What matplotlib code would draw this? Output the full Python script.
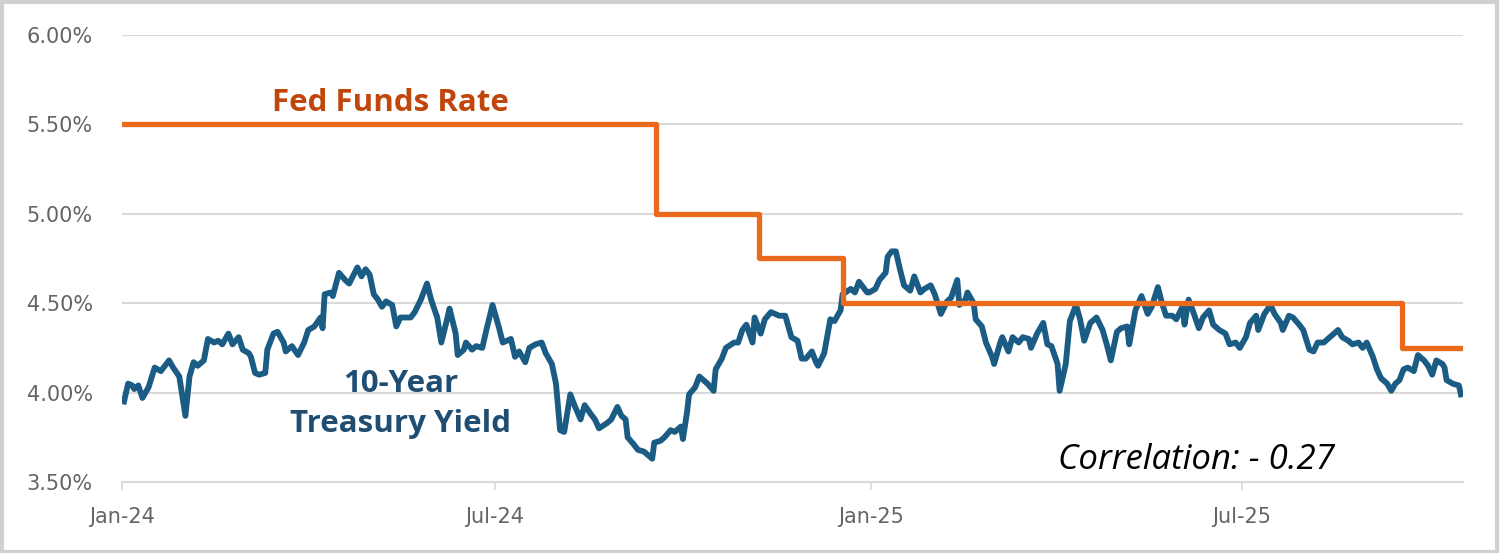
"""10-Year Treasury yield vs. Fed Funds rate, Jan-24 to Oct-25."""
import numpy as np
import pandas as pd
import matplotlib
matplotlib.use("Agg")
import matplotlib.pyplot as plt
import matplotlib.dates as mdates
from matplotlib.patches import Rectangle

# 10-year treasury yield (%)
ust_dates = [
    "2024-01-02", "2024-01-04", "2024-01-06", "2024-01-07", "2024-01-09", "2024-01-11",
    "2024-01-14", "2024-01-17", "2024-01-20", "2024-01-24", "2024-01-26", "2024-01-29",
    "2024-02-01", "2024-02-03", "2024-02-05", "2024-02-07", "2024-02-10", "2024-02-12",
    "2024-02-15", "2024-02-17", "2024-02-19", "2024-02-22", "2024-02-24", "2024-02-27",
    "2024-02-29", "2024-03-03", "2024-03-04", "2024-03-06", "2024-03-08", "2024-03-11",
    "2024-03-12", "2024-03-15", "2024-03-17", "2024-03-20", "2024-03-21", "2024-03-24",
    "2024-03-27", "2024-03-30", "2024-04-01", "2024-04-04", "2024-04-07", "2024-04-08",
    "2024-04-09", "2024-04-12", "2024-04-13", "2024-04-16", "2024-04-19", "2024-04-21",
    "2024-04-25", "2024-04-27", "2024-04-29", "2024-05-01", "2024-05-03", "2024-05-05",
    "2024-05-07", "2024-05-09", "2024-05-12", "2024-05-14", "2024-05-16", "2024-05-18",
    "2024-05-21", "2024-05-23", "2024-05-26", "2024-05-29", "2024-05-31", "2024-06-03",
    "2024-06-05", "2024-06-08", "2024-06-09", "2024-06-12", "2024-06-13", "2024-06-16",
    "2024-06-17", "2024-06-20", "2024-06-22", "2024-06-25", "2024-06-27", "2024-06-30",
    "2024-07-03", "2024-07-05", "2024-07-09", "2024-07-11", "2024-07-13", "2024-07-16",
    "2024-07-18", "2024-07-21", "2024-07-24", "2024-07-26", "2024-07-29", "2024-07-31",
    "2024-08-02", "2024-08-04", "2024-08-07", "2024-08-09", "2024-08-12", "2024-08-14",
    "2024-08-17", "2024-08-19", "2024-08-21", "2024-08-25", "2024-08-27", "2024-08-30",
    "2024-09-01", "2024-09-03", "2024-09-04", "2024-09-07", "2024-09-09", "2024-09-12",
    "2024-09-14", "2024-09-16", "2024-09-17", "2024-09-20", "2024-09-22", "2024-09-25",
    "2024-09-27", "2024-09-30", "2024-10-01", "2024-10-03", "2024-10-04", "2024-10-07",
    "2024-10-09", "2024-10-13", "2024-10-16", "2024-10-17", "2024-10-20", "2024-10-22",
    "2024-10-26", "2024-10-28", "2024-10-30", "2024-11-01", "2024-11-04", "2024-11-05",
    "2024-11-08", "2024-11-10", "2024-11-13", "2024-11-15", "2024-11-17", "2024-11-20",
    "2024-11-21", "2024-11-23", "2024-11-26", "2024-11-28", "2024-11-30", "2024-12-03",
    "2024-12-05", "2024-12-06", "2024-12-09", "2024-12-12", "2024-12-14", "2024-12-17",
    "2024-12-18", "2024-12-22", "2024-12-24", "2024-12-26", "2024-12-30", "2024-12-31",
    "2025-01-03", "2025-01-05", "2025-01-08", "2025-01-09", "2025-01-11", "2025-01-13",
    "2025-01-15", "2025-01-17", "2025-01-20", "2025-01-22", "2025-01-25", "2025-01-27",
    "2025-01-30", "2025-02-01", "2025-02-04", "2025-02-07", "2025-02-09", "2025-02-12",
    "2025-02-13", "2025-02-16", "2025-02-17", "2025-02-20", "2025-02-21", "2025-02-24",
    "2025-02-26", "2025-03-01", "2025-03-02", "2025-03-05", "2025-03-06", "2025-03-09",
    "2025-03-11", "2025-03-14", "2025-03-16", "2025-03-19", "2025-03-20", "2025-03-23",
    "2025-03-26", "2025-03-28", "2025-03-30", "2025-04-02", "2025-04-03", "2025-04-06",
    "2025-04-08", "2025-04-11", "2025-04-13", "2025-04-15", "2025-04-18", "2025-04-21",
    "2025-04-24", "2025-04-26", "2025-04-28", "2025-05-01", "2025-05-03", "2025-05-06",
    "2025-05-07", "2025-05-10", "2025-05-13", "2025-05-16", "2025-05-18", "2025-05-21",
    "2025-05-23", "2025-05-25", "2025-05-28", "2025-05-30", "2025-06-02", "2025-06-03",
    "2025-06-05", "2025-06-07", "2025-06-10", "2025-06-12", "2025-06-15", "2025-06-17",
    "2025-06-20", "2025-06-23", "2025-06-25", "2025-06-28", "2025-06-30", "2025-07-03",
    "2025-07-05", "2025-07-08", "2025-07-09", "2025-07-12", "2025-07-15", "2025-07-17",
    "2025-07-20", "2025-07-21", "2025-07-24", "2025-07-26", "2025-07-29", "2025-07-31",
    "2025-08-03", "2025-08-05", "2025-08-07", "2025-08-10", "2025-08-12", "2025-08-15",
    "2025-08-17", "2025-08-19", "2025-08-22", "2025-08-24", "2025-08-27", "2025-08-29",
    "2025-08-31", "2025-09-03", "2025-09-05", "2025-09-07", "2025-09-10", "2025-09-12",
    "2025-09-14", "2025-09-16", "2025-09-18", "2025-09-20", "2025-09-23", "2025-09-25",
    "2025-09-28", "2025-09-30", "2025-10-02", "2025-10-04", "2025-10-07", "2025-10-08",
    "2025-10-09", "2025-10-12", "2025-10-15", "2025-10-16",
]
ust_yield = [
    3.95, 4.05, 4.04, 4.02, 4.04, 3.97,
    4.03, 4.14, 4.12, 4.18, 4.14, 4.09,
    3.87, 4.09, 4.17, 4.15, 4.18, 4.30,
    4.28, 4.29, 4.27, 4.33, 4.27, 4.31,
    4.24, 4.22, 4.20, 4.11, 4.10, 4.11,
    4.24, 4.33, 4.34, 4.28, 4.23, 4.26,
    4.21, 4.28, 4.35, 4.37, 4.42, 4.36,
    4.55, 4.56, 4.54, 4.67, 4.63, 4.61,
    4.70, 4.65, 4.69, 4.66, 4.55, 4.52,
    4.48, 4.51, 4.49, 4.37, 4.42, 4.42,
    4.42, 4.45, 4.52, 4.61, 4.52, 4.42,
    4.28, 4.42, 4.47, 4.33, 4.21, 4.24,
    4.28, 4.24, 4.26, 4.25, 4.35, 4.49,
    4.37, 4.28, 4.30, 4.20, 4.23, 4.17,
    4.25, 4.27, 4.28, 4.22, 4.16, 4.05,
    3.79, 3.78, 3.99, 3.93, 3.85, 3.93,
    3.88, 3.85, 3.80, 3.83, 3.85, 3.92,
    3.87, 3.85, 3.75, 3.71, 3.68, 3.67,
    3.65, 3.63, 3.72, 3.73, 3.75, 3.79,
    3.78, 3.81, 3.74, 3.89, 3.99, 4.03,
    4.09, 4.05, 4.01, 4.13, 4.19, 4.25,
    4.28, 4.28, 4.35, 4.38, 4.28, 4.42,
    4.33, 4.41, 4.45, 4.44, 4.43, 4.43,
    4.39, 4.31, 4.29, 4.19, 4.19, 4.23,
    4.17, 4.15, 4.22, 4.41, 4.40, 4.46,
    4.55, 4.58, 4.56, 4.62, 4.56, 4.56,
    4.58, 4.63, 4.67, 4.76, 4.79, 4.79,
    4.69, 4.60, 4.57, 4.65, 4.56, 4.58,
    4.60, 4.55, 4.44, 4.51, 4.53, 4.63,
    4.49, 4.52, 4.56, 4.50, 4.41, 4.37,
    4.28, 4.20, 4.16, 4.28, 4.31, 4.23,
    4.31, 4.28, 4.31, 4.30, 4.25, 4.33,
    4.39, 4.27, 4.26, 4.16, 4.01, 4.16,
    4.40, 4.49, 4.41, 4.29, 4.39, 4.42,
    4.35, 4.27, 4.18, 4.34, 4.36, 4.37,
    4.27, 4.46, 4.54, 4.44, 4.48, 4.59,
    4.50, 4.43, 4.43, 4.41, 4.48, 4.38,
    4.52, 4.46, 4.36, 4.42, 4.46, 4.38,
    4.35, 4.33, 4.27, 4.28, 4.25, 4.31,
    4.39, 4.43, 4.35, 4.44, 4.49, 4.44,
    4.39, 4.35, 4.43, 4.42, 4.38, 4.35,
    4.24, 4.23, 4.28, 4.28, 4.30, 4.33,
    4.35, 4.31, 4.29, 4.27, 4.28, 4.25,
    4.28, 4.20, 4.13, 4.08, 4.05, 4.01,
    4.05, 4.07, 4.13, 4.14, 4.12, 4.21,
    4.18, 4.15, 4.10, 4.18, 4.16, 4.14,
    4.07, 4.05, 4.04, 3.99,
]

# Fed funds target (upper bound), effective from each date
fed_dates = ["2024-01-01", "2024-09-18", "2024-11-07", "2024-12-18", "2025-09-17", "2025-10-16"]
fed_rate = [5.50, 5.00, 4.75, 4.50, 4.25, 4.25]

y_ticks = [3.5, 4.0, 4.5, 5.0, 5.5, 6.0]
x_ticks = ["2024-01-01", "2024-07-01", "2025-01-01", "2025-07-01"]

BLUE = "#1B5C85"
ORANGE = "#EA6A1C"
GRID = "#D9D9D9"
TICK_C = "#646464"

plt.rcParams["font.family"] = ["Open Sans", "DejaVu Sans"]

fig = plt.figure(figsize=(15, 5.53), dpi=100)
ax = fig.add_axes([0.0813, 0.1284, 0.894, 0.8083])

ust_x = pd.to_datetime(ust_dates)
fed_x = pd.to_datetime(fed_dates)

ax.plot(ust_x, ust_yield, color=BLUE, linewidth=4.2, solid_joinstyle="round", zorder=3)
ax.plot(fed_x, fed_rate, color=ORANGE, linewidth=3.8, drawstyle="steps-post", zorder=4)

ax.set_ylim(3.5, 6.0)
ax.set_xlim(pd.Timestamp("2024-01-01"), pd.Timestamp("2025-10-17"))
ax.set_yticks(y_ticks)
ax.set_yticklabels([f"{v:.2f}%" for v in y_ticks])
ax.set_xticks(pd.to_datetime(x_ticks))
ax.xaxis.set_major_formatter(mdates.DateFormatter("%b-%y"))

ax.grid(axis="y", color=GRID, linewidth=1.5)
ax.set_axisbelow(True)
for s in ["top", "right", "left"]:
    ax.spines[s].set_visible(False)
ax.spines["bottom"].set_color(GRID)
ax.spines["bottom"].set_linewidth(1.5)
for lbl in ax.get_xticklabels() + ax.get_yticklabels():
    lbl.set_family("DejaVu Sans")
ax.tick_params(axis="y", length=0, pad=21, labelsize=15, labelcolor=TICK_C)
ax.tick_params(axis="x", length=6, width=1.2, color=GRID, pad=12,
               labelsize=15, labelcolor=TICK_C)

ax.text(pd.Timestamp("2024-05-11"), 5.62, "Fed Funds Rate", color="#C0460C",
        fontsize=22.5, fontweight="bold", ha="center", va="center")
ax.text(pd.Timestamp("2024-05-16"), 3.935, "10-Year\nTreasury Yield", color="#1F4E72",
        fontsize=22.5, fontweight="bold", ha="center", va="center", linespacing=1.42)
ax.text(pd.Timestamp("2025-06-09"), 3.625, "Correlation: - 0.27", color="black",
        fontsize=25, style="italic", ha="center", va="center")

fig.patches.append(Rectangle((0.001, 0.002), 0.997, 0.995, transform=fig.transFigure,
                             fill=False, edgecolor="#D0D0D0", linewidth=3))

fig.savefig("out.png", dpi=100)
plt.close(fig)
